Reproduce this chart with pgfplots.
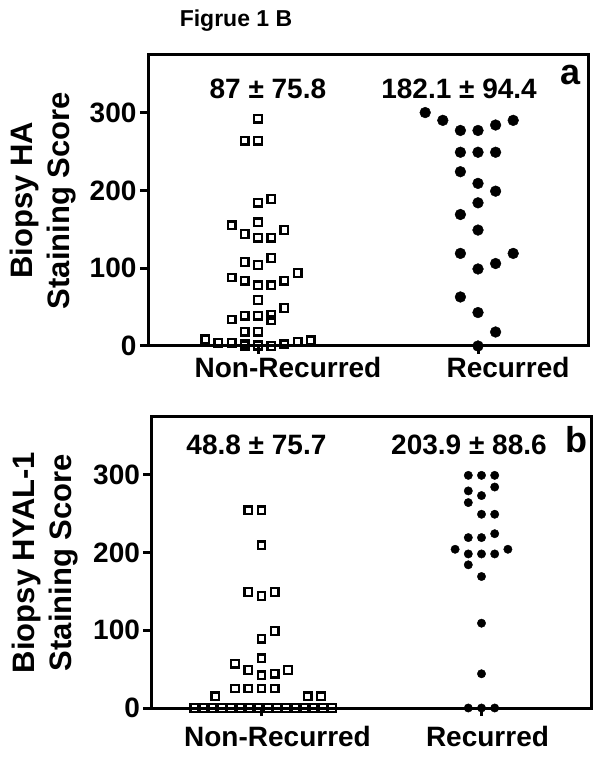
\documentclass[border=0pt]{standalone}
\usepackage{fontspec}
\setmainfont{Liberation Sans}
\usepackage{pgfplots}
\pgfplotsset{compat=1.18}

\pgfplotsset{
  panel/.style={
    scale only axis, width=440pt, height=291pt,
    xmin=0.5, xmax=2.5, ymin=0, ymax=374,
    xtick={1,2}, ytick={0,100,200,300},
    xticklabels={Non-Recurred,Recurred},
    tick align=outside, xtick pos=bottom, ytick pos=left,
    major tick length=8pt,
    major tick style={black, line width=3pt},
    axis line style={black, line width=3pt},
    tick label style={font=\fontsize{28}{28}\selectfont\bfseries},
    /pgf/number format/assume math mode=true,
    clip=false,
    ylabel style={align=center, font=\fontsize{31}{37}\selectfont\bfseries, anchor=center},
  },
  sq/.style={only marks, mark=square, mark size=3.8pt, black, line width=2.3pt},
  dot/.style={only marks, mark=*, black, line width=0.4pt},
}
\newcommand{\stat}{\fontsize{28}{28}\selectfont\bfseries}
\newcommand{\tag}{\fontsize{36}{36}\selectfont\bfseries}

\begin{document}
\begin{tikzpicture}
\useasboundingbox (0,0) rectangle (602pt,758pt);
\node[font=\fontsize{23}{23}\selectfont\bfseries] at (236pt,737pt) {Figrue 1 B};

% panel a: HA
\begin{axis}[panel, at={(148pt,412pt)}, anchor=south west,
  ylabel={Biopsy HA\\Staining Score},
  ylabel style={at={(axis description cs:-0.239,0.5)}},
  xticklabel style={xshift=30pt}]
\addplot[sq] coordinates {
 (1.00,292)
 (0.94,264) (1.00,264)
 (1.00,184) (1.06,189)
 (0.88,155) (1.00,159) (0.94,144) (1.00,139) (1.06,139) (1.12,149)
 (0.94,108) (1.00,104) (1.06,113)
 (0.88,88) (0.94,84) (1.00,78) (1.06,78) (1.12,84) (1.18,94)
 (1.00,59)
 (1.12,49) (0.88,34) (0.94,39) (1.00,39) (1.06,40) (1.06,33)
 (0.94,18.5) (1.00,18.5)
 (0.76,8.6) (0.82,4.3) (0.88,4.3) (0.94,3) (1.00,1) (1.06,0) (1.12,2) (1.18,5.6) (1.24,7.3)
 (0.94,0) (1.00,0)
};
\addplot[dot, mark size=5.4pt] coordinates {
 (1.76,300) (1.84,290) (1.92,277) (2.00,277) (2.08,284) (2.16,290)
 (1.92,249) (2.00,249) (2.08,249)
 (1.92,224)
 (2.00,209) (2.08,199)
 (2.00,184)
 (1.92,169)
 (2.00,149)
 (1.92,119) (2.16,119)
 (2.00,99) (2.08,106)
 (1.92,63)
 (2.00,43)
 (2.08,18)
 (2.00,0)
};
\node[font=\stat] at (axis cs:1.045,330) {87 ± 75.8};
\node[font=\stat] at (axis cs:1.914,330) {182.1 ± 94.4};
\node[font=\tag] at (axis cs:2.42,348) {a};
\end{axis}

% panel b: HYAL-1
\begin{axis}[panel, at={(151.5pt,50pt)}, anchor=south west,
  ylabel={Biopsy HYAL-1\\Staining Score},
  ylabel style={at={(axis description cs:-0.242,0.5)}},
  xticklabels={\hspace*{20pt}Non-Recurred,Recurred},
  xticklabel style={xshift=6pt, yshift=-7pt}]
\addplot[sq] coordinates {
 (0.94,254) (1.00,254)
 (1.00,209)
 (0.94,149) (1.00,144) (1.06,149)
 (1.00,89) (1.06,99)
 (1.00,64)
 (0.88,57) (0.94,49) (1.00,42) (1.06,44) (1.12,49)
 (0.88,25) (0.94,25) (1.00,25) (1.06,25)
 (0.79,15) (1.21,15) (1.27,15)
 (0.695,0) (0.737,0) (0.778,0) (0.820,0) (0.862,0) (0.904,0) (0.945,0) (0.987,0)
 (1.029,0) (1.070,0) (1.112,0) (1.154,0) (1.196,0) (1.237,0) (1.279,0) (1.321,0)
};
\addplot[dot, mark size=4.2pt] coordinates {
 (1.94,299) (2.00,299) (2.06,299)
 (1.94,279) (2.00,273) (2.06,284)
 (1.94,264)
 (2.00,249) (2.06,249)
 (1.94,219) (2.00,219) (2.06,224)
 (1.88,204) (1.94,198) (2.00,198) (2.06,198) (2.12,204)
 (1.94,184)
 (2.00,169)
 (2.00,109)
 (2.00,44)
 (1.94,0) (2.00,0) (2.06,0)
};
\node[font=\stat] at (axis cs:0.977,338) {48.8 ± 75.7};
\node[font=\stat] at (axis cs:1.943,338) {203.9 ± 88.6};
\node[font=\tag] at (axis cs:2.434,345) {b};
\end{axis}
\end{tikzpicture}
\end{document}
